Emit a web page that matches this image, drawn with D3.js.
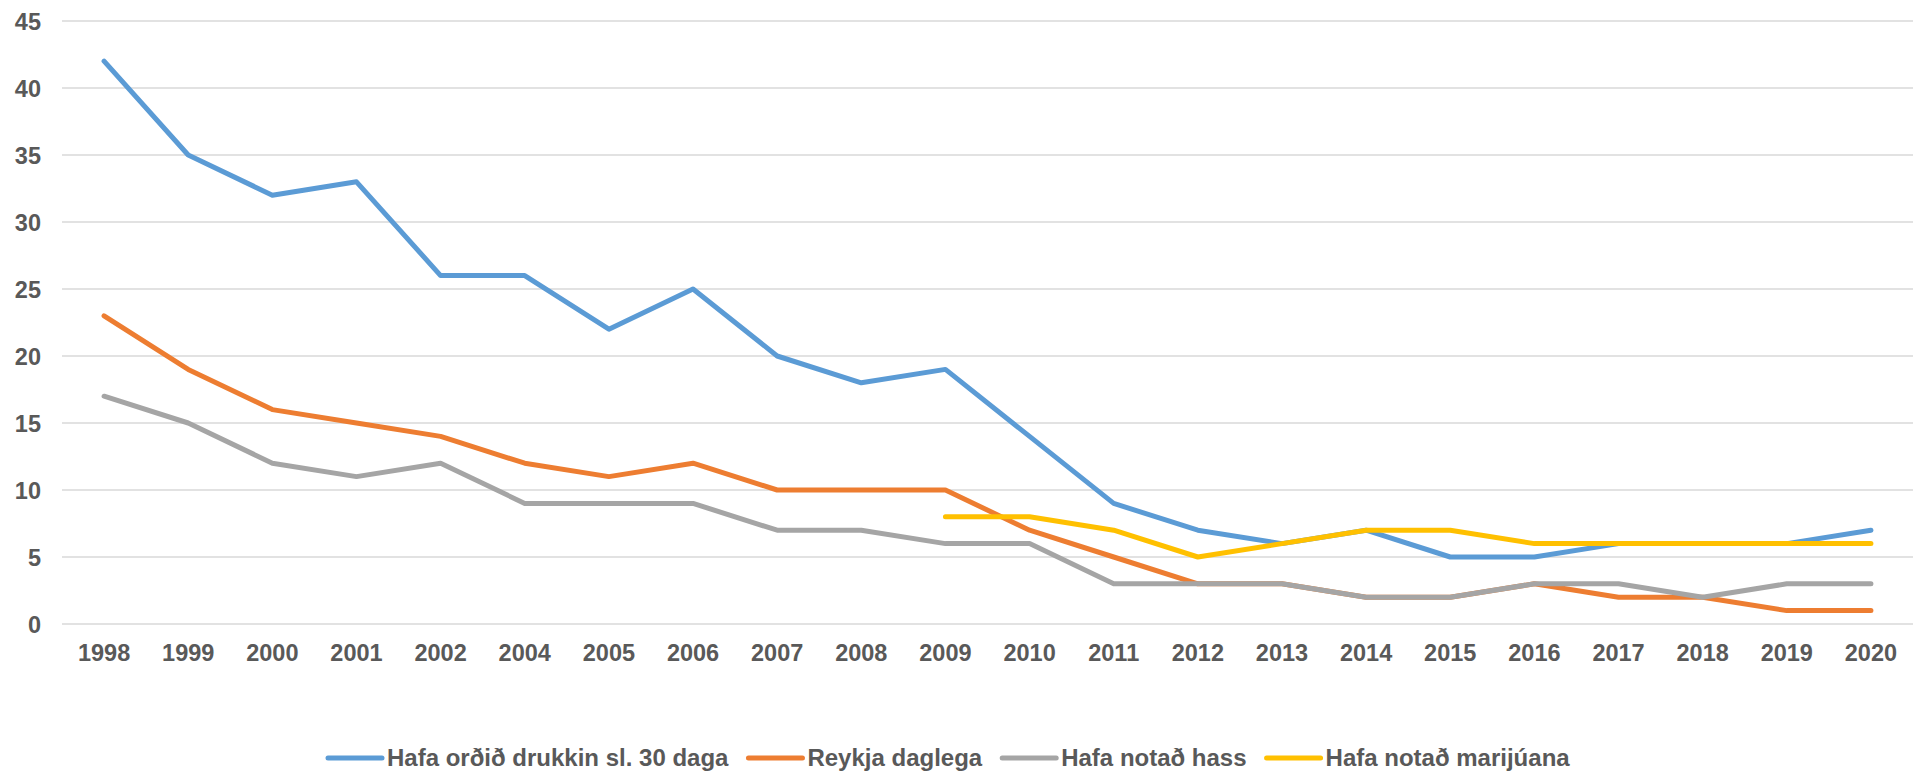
<!DOCTYPE html>
<html>
<head>
<meta charset="utf-8">
<script src="https://cdn.jsdelivr.net/npm/d3@7"></script>
<style>
  html, body { margin: 0; padding: 0; background: #fff; }
  svg { display: block; }
  text { font-family: "Liberation Sans", Arial, sans-serif; font-weight: bold; fill: #595959; }
</style>
</head>
<body>
<svg id="chart" width="1913" height="771"></svg>
<script>
const years = ["1998","1999","2000","2001","2002","2004","2005","2006","2007","2008","2009","2010","2011","2012","2013","2014","2015","2016","2017","2018","2019","2020"];
const drukkin = [42,35,32,33,26,26,22,25,20,18,19,14,9,7,6,7,5,5,6,6,6,7];
const reykja = [23,19,16,15,14,12,11,12,10,10,10,7,5,3,3,2,2,3,2,2,1,1];
const hass = [17,15,12,11,12,9,9,9,7,7,6,6,3,3,3,2,2,3,3,2,3,3];
const marijuana = [null,null,null,null,null,null,null,null,null,null,8,8,7,5,6,7,7,6,6,6,6,6];
const yTicks = [0,5,10,15,20,25,30,35,40,45];
const seriesNames = ["Hafa orðið drukkin sl. 30 daga","Reykja daglega","Hafa notað hass","Hafa notað marijúana"];
const seriesColors = ["#5B9BD5","#ED7D31","#A5A5A5","#FFC000"];
const seriesData = [drukkin, reykja, hass, marijuana];

const svg = d3.select("#chart");
const x = d3.scaleBand().domain(years).range([62, 1913]);
const y = d3.scaleLinear().domain([0,45]).range([624, 21]);

// gridlines
svg.append("g").selectAll("line").data(yTicks).join("line")
  .attr("x1", 62).attr("x2", 1913)
  .attr("y1", d => y(d)).attr("y2", d => y(d))
  .attr("stroke", "#D9D9D9").attr("stroke-width", 1.5);

// y axis labels
const yAxis = d3.axisLeft(y).tickValues(yTicks).tickSize(0).tickPadding(0);
const gy = svg.append("g").attr("transform", "translate(41,0)").call(yAxis);
gy.select(".domain").remove();
gy.selectAll("text").attr("font-size", 23.5).attr("dy", "0.35em").style("font-family", null);

// x axis labels
const xAxis = d3.axisBottom(x).tickSize(0).tickPadding(0);
const gx = svg.append("g").attr("transform", "translate(0,661)").call(xAxis);
gx.select(".domain").remove();
gx.selectAll("text").attr("font-size", 23.5).attr("dy", 0).style("font-family", null);

// lines
const line = d3.line()
  .defined(d => d.v !== null)
  .x(d => x(d.year) + x.bandwidth()/2)
  .y(d => y(d.v));

seriesData.forEach((arr, i) => {
  svg.append("path")
    .datum(years.map((yr, j) => ({year: yr, v: arr[j]})))
    .attr("d", line)
    .attr("fill", "none")
    .attr("stroke", seriesColors[i])
    .attr("stroke-width", 5)
    .attr("stroke-linejoin", "round")
    .attr("stroke-linecap", "round");
});

// legend
const leg = svg.append("g");
let lx = 328;
const ly = 758;
seriesNames.forEach((name, i) => {
  leg.append("line").attr("x1", lx).attr("x2", lx + 54).attr("y1", ly).attr("y2", ly)
    .attr("stroke", seriesColors[i]).attr("stroke-width", 5).attr("stroke-linecap", "round");
  const t = leg.append("text").attr("x", lx + 59).attr("y", ly).attr("dy", "0.35em")
    .attr("font-size", 24).text(name);
  const w = t.node().getComputedTextLength();
  lx = lx + 59 + w + 20;
});
</script>
</body>
</html>
